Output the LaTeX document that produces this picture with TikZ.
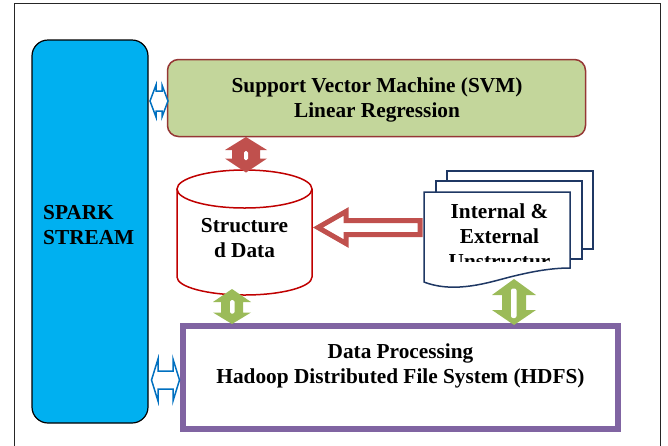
\documentclass[tikz,border=0pt]{standalone}
\usepackage{fontspec}
\setmainfont{Liberation Serif}
\definecolor{sparkblue}{HTML}{00B0F0}
\definecolor{svmgreen}{HTML}{C3D69B}
\definecolor{svmborder}{HTML}{953735}
\definecolor{arrred}{HTML}{C0504D}
\definecolor{cylred}{HTML}{C00000}
\definecolor{arrgreen}{HTML}{9BBB59}
\definecolor{hdfspurple}{HTML}{8064A2}
\definecolor{docnavy}{HTML}{1F3864}
\definecolor{arrblue}{HTML}{0070C0}
\begin{document}
\begin{tikzpicture}[x=1pt,y=-1pt,
  lbl/.style={font=\fontsize{21.3}{25}\selectfont\bfseries, align=center, inner sep=0pt},
  blockarrow/.style={draw=arrblue, fill=white, line width=1.5pt, line join=miter},
  page/.style={draw=docnavy, fill=white, line width=1.5pt},
  filledarrow/.style={line join=miter}]
\useasboundingbox (0,0) rectangle (668,445);
% outer frame
\draw[line width=1pt, black!85] (14,446) -- (14,3) -- (660,3) -- (660,446);

% SPARK STREAM
\node[draw=black, line width=1.2pt, fill=sparkblue, rounded corners=16pt,
      minimum width=116pt, minimum height=383pt, inner sep=0pt] (spark) at (90,231.5) {};
\node[lbl, align=left, anchor=west] (sparktext) at (43,225.5) {SPARK\\STREAM};

% SVM box
\node[draw=svmborder, line width=1.5pt, fill=svmgreen, rounded corners=11pt,
      minimum width=418pt, minimum height=77pt, inner sep=0pt] (svm) at (376.5,98) {};
\node[lbl] (svmtext) at (377,99.5) {Support Vector Machine (SVM)\\Linear Regression};

% Cylinder (structured data)
\node[minimum width=135pt, minimum height=125pt, inner sep=0pt] (cyl) at (244.5,232.5) {};
\draw[cylred, line width=1.5pt, fill=white]
  (177,189) -- (177,277)
  .. controls (177,286.94) and (207.22,295) .. (244.5,295)
  .. controls (281.78,295) and (312,286.94) .. (312,277)
  -- (312,189);
\draw[cylred, line width=1.5pt, fill=white] (244.5,189) ellipse [x radius=67.5, y radius=19];
\node[lbl] (cyltext) at (244.5,238.5) {Structure\\d Data};

% HDFS box
\node[draw=hdfspurple, line width=6pt, minimum width=435pt, minimum height=103pt,
      inner sep=0pt] (hdfs) at (400.5,377.5) {};
\node[lbl] (hdfstext) at (400.5,365.8) {Data Processing\\Hadoop Distributed File System (HDFS)};

% red hollow arrow from documents to cylinder
\draw[draw=arrred, fill=white, line width=5pt, line join=miter]
  (318,227.5) -- (346,211.5) -- (346,220.5) -- (420,220.5) -- (420,234.5)
  -- (346,234.5) -- (346,243.5) -- cycle;

% Documents stack
\node[minimum width=146pt, minimum height=97pt, inner sep=0pt] (docs) at (497,240.5) {};
\draw[page] (447,171) rectangle (593,249);
\draw[page] (436,181) rectangle (582,259);
\draw[page] (424,192) -- (570,192) -- (570,268)
  .. controls (550,268) and (530,272) .. (510,277)
  .. controls (490,282) and (455,294) .. (424,282) -- cycle;
\begin{scope}
  \clip (424,192) rectangle (570,261);
  \node[lbl] (docstext) at (499.5,235.75) {Internal \&\\External\\Unstructur};
\end{scope}

% blue double arrow SPARK <-> SVM
\draw[blockarrow] (150,101) -- (156,85) -- (156,91) -- (162,91) -- (162,85) -- (168,101)
  -- (162,117) -- (162,111) -- (156,111) -- (156,117) -- cycle;
% blue double arrow SPARK <-> HDFS
\draw[blockarrow] (151.5,380) -- (158,359) -- (158,371) -- (173,371) -- (173,359) -- (179.5,380)
  -- (173,401) -- (173,389) -- (158,389) -- (158,401) -- cycle;

% red double arrow SVM <-> cylinder
\fill[arrred] (246,137) -- (225,150) -- (232,150) -- (232,158.5) -- (225,158.5) -- (246,172.5)
  -- (267,158.5) -- (260,158.5) -- (260,150) -- (267,150) -- cycle;
\fill[white, rounded corners=1.5pt] (244,151) rectangle (248,160);

% green double arrow cylinder <-> HDFS
\fill[arrgreen] (232,289) -- (213,302) -- (221,302) -- (221,312.5) -- (213,312.5) -- (232,324)
  -- (251,312.5) -- (243,312.5) -- (243,302) -- (251,302) -- cycle;
\fill[white, rounded corners=1.5pt] (230,300) rectangle (234.5,313.5);

% green double arrow documents <-> HDFS
\fill[arrgreen] (514,279) -- (492,295) -- (502,295) -- (502,310) -- (492,310) -- (514,325)
  -- (536,310) -- (526,310) -- (526,295) -- (536,295) -- cycle;
\fill[white, rounded corners=2pt] (511,288.5) rectangle (516.5,318);
\end{tikzpicture}
\end{document}
